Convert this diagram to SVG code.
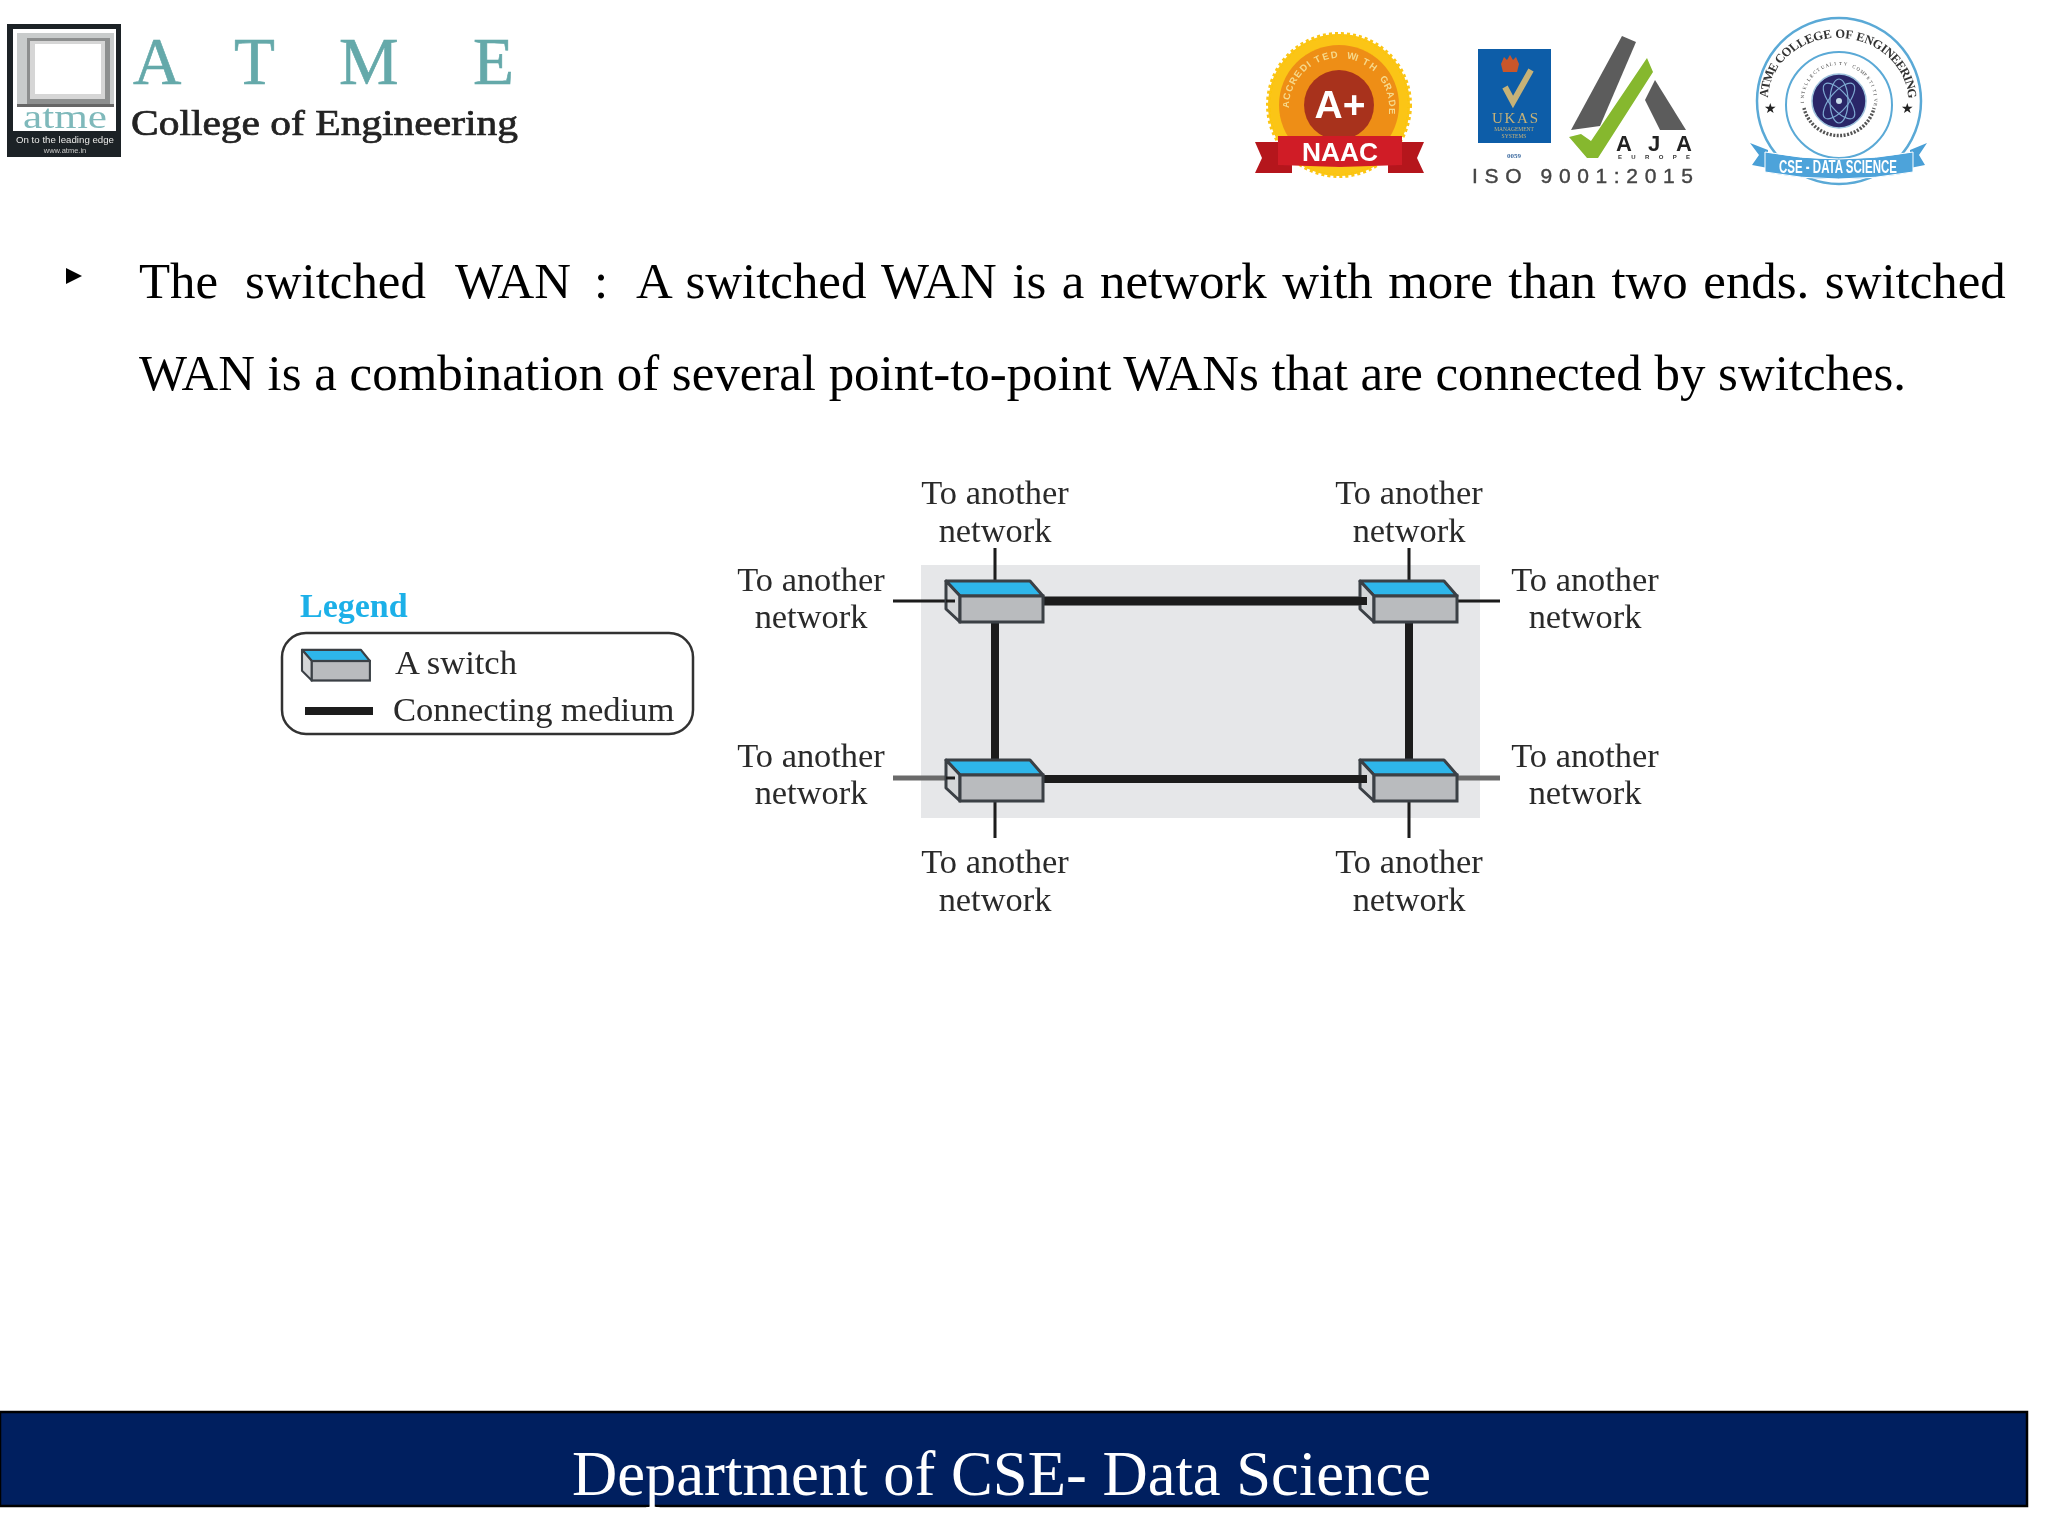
<svg xmlns="http://www.w3.org/2000/svg" width="2048" height="1536" viewBox="0 0 2048 1536">
<style>
text{font-family:"Liberation Serif","Times New Roman",serif}
.body{font-size:50.9px;fill:#000}
.lbl{font-size:34.400px;fill:#2a2a2a;text-anchor:middle}
.sans{font-family:"Liberation Sans",Arial,sans-serif}
.thick{stroke:#1d1d1d;fill:none}
.thin{stroke:#1d1d1d;stroke-width:3;fill:none}
.grayl{stroke:#6b6b6b;stroke-width:5;fill:none}
.leg{font-size:34.600px;fill:#2a2a2a}
.big{font-size:67px;fill:#65a9aa;stroke:#65a9aa;stroke-width:.6}
</style>
<defs>
<filter id="soft" x="-5%" y="-5%" width="110%" height="110%"><feGaussianBlur stdDeviation="0.7"/></filter>
<filter id="soft2" x="-2%" y="-2%" width="104%" height="104%"><feGaussianBlur stdDeviation="0.5"/></filter>
<g id="sw">
<polygon points="946,581 1030,581 1043,596 960,596" fill="#2fb6ea" stroke="#3a3f45" stroke-width="3" stroke-linejoin="round"/>
<polygon points="946,581 960,596 960,622 946,609" fill="#d4d6d8" stroke="#3a3f45" stroke-width="3" stroke-linejoin="round"/>
<rect x="960" y="596" width="83" height="26" fill="#b9bbbe" stroke="#3a3f45" stroke-width="3"/>
</g>
</defs>
<rect width="2048" height="1536" fill="#fff"/>

<g id="logo-atme" filter="url(#soft)">
<rect x="7" y="24" width="114" height="133" fill="#1f2426"/>
<rect x="13" y="29" width="103" height="102" fill="#fff"/>
<rect x="17" y="33" width="97" height="74" fill="#c9cccc"/>
<rect x="27" y="38" width="83" height="68" fill="#8d8f8f"/>
<rect x="30" y="41" width="75" height="58" fill="#d6d6d6"/>
<rect x="35" y="44" width="66" height="50" fill="#fff"/>
<rect x="17" y="104" width="97" height="3" fill="#666"/>
<text x="65" y="128" font-size="33" fill="#7fb9bb" text-anchor="middle" textLength="84" lengthAdjust="spacingAndGlyphs">atme</text>
<text x="65" y="143" class="sans" font-size="8.500" fill="#e8e8e8" text-anchor="middle" textLength="98" lengthAdjust="spacingAndGlyphs">On to the leading edge</text>
<text x="65" y="153" class="sans" font-size="7.500" fill="#c8c8c8" text-anchor="middle">www.atme.in</text>
<text x="133" y="84" class="big">A</text>
<text x="234" y="84" class="big">T</text>
<text x="339" y="84" class="big">M</text>
<text x="473" y="84" class="big">E</text>
<text x="131" y="135" font-size="35" fill="#222" stroke="#222" stroke-width=".7" textLength="387" lengthAdjust="spacingAndGlyphs">College of Engineering</text>
</g>

<g id="logo-naac" filter="url(#soft)">
<circle cx="1339" cy="105" r="71" fill="#fbc512" stroke="#fbc512" stroke-width="4" stroke-dasharray="3 3"/>
<circle cx="1339" cy="105" r="60" fill="#ee8e17"/>
<circle cx="1339" cy="105" r="35" fill="#a8321c"/>
<text x="1340" y="118" class="sans" font-size="39" font-weight="bold" fill="#fff" text-anchor="middle">A+</text>
<text class="sans" font-size="9.500" font-weight="bold" fill="#f6d98b"
 x="1289 1289.6 1291.4 1294.4 1298.5 1303.6 1309.6 1316.3 1323.5 1331.2 1339 1346.8 1354.5 1361.7 1368.4 1374.4 1379.5 1383.6 1386.6 1388.4 1389"
 y="108 100.2 92.5 85.3 78.6 72.6 67.5 63.4 60.4 58.6 58 58.6 60.4 63.4 67.5 72.6 78.6 85.3 92.5 100.2 108"
 rotate="-90 -81 -72 -63 -54 -45 -36 -27 -18 -9 0 9 18 27 36 45 54 63 72 81 90">ACCREDITED WITH GRADE</text>
<polygon points="1255,142 1292,142 1292,173 1255,173 1262,158" fill="#b5171f"/>
<polygon points="1424,142 1388,142 1388,173 1424,173 1417,158" fill="#b5171f"/>
<polygon points="1278,136 1402,136 1402,165 1340,167 1278,165" fill="#d01f26"/>
<text x="1340" y="161" class="sans" font-size="25" font-weight="bold" fill="#fff" text-anchor="middle" textLength="76" lengthAdjust="spacingAndGlyphs">NAAC</text>
</g>

<g id="logo-iso" filter="url(#soft)">
<rect x="1478" y="49" width="73" height="94" fill="#0f5da8"/>
<path d="M1503,72 l-2,-8 3,-7 3,3 3,-5 3,5 3,-3 3,7 -2,8z" fill="#c9572c"/>
<polyline points="1505,87 1513,102 1531,70" fill="none" stroke="#c6b277" stroke-width="6"/>
<text x="1515" y="123" font-size="15" fill="#c6b277" text-anchor="middle" textLength="46">UKAS</text>
<text x="1514" y="131" font-size="5.500" fill="#c6b277" text-anchor="middle">MANAGEMENT</text>
<text x="1514" y="138" font-size="5.500" fill="#c6b277" text-anchor="middle">SYSTEMS</text>
<text x="1514" y="158" font-size="7" font-weight="bold" fill="#3c6aa0" text-anchor="middle">0059</text>
<polygon points="1622,36 1636,42 1600,126 1571,130" fill="#5b5b5b"/>
<polygon points="1655,80 1686,130 1660,130 1645,100" fill="#5b5b5b"/>
<polygon points="1647,58 1653,72 1598,158 1587,158 1569,137 1581,134 1591,141" fill="#86b82e"/>
<text x="1654" y="151" class="sans" font-size="22" font-weight="bold" fill="#222" text-anchor="middle" textLength="76">AJA</text>
<text x="1654" y="159" class="sans" font-size="6" font-weight="bold" fill="#333" text-anchor="middle" textLength="72">EUROPE</text>
<text x="1472" y="183" class="sans" font-size="21" fill="#444" stroke="#444" stroke-width=".4" textLength="221">ISO 9001:2015</text>
</g>

<g id="logo-cse" filter="url(#soft)">
<ellipse cx="1839" cy="101" rx="82" ry="83" fill="#fff" stroke="#5aa9d6" stroke-width="2.500"/>
<circle cx="1839" cy="105" r="53" fill="#fff" stroke="#5aa9d6" stroke-width="2"/>
<circle cx="1839" cy="101" r="27" fill="#2a2768" stroke="#9fc3dd" stroke-width="1.500"/>
<g fill="none" stroke="#7ea9d2" stroke-width="1.200">
<ellipse cx="1839" cy="101" rx="22" ry="9" transform="rotate(50 1839 101)"/>
<ellipse cx="1839" cy="101" rx="22" ry="9" transform="rotate(-50 1839 101)"/>
<ellipse cx="1839" cy="101" rx="22" ry="9" transform="rotate(90 1839 101)"/>
</g>
<circle cx="1839" cy="101" r="3" fill="#c9dcec"/>
<text font-size="12.500" font-weight="bold" fill="#333"
 x="1768.1 1768.9 1770.7 1774.9 1779 1780.7 1786.3 1793.3 1800 1807.2 1814.8 1824.1 1832.3 1835.4 1845.1 1852.6 1855.6 1863.5 1871.6 1879.7 1883.5 1889.9 1895.1 1899.5 1903.2 1904.9 1907"
 y="97.8 90 82.8 73.1 66.7 64.4 58.2 52.3 47.9 44.3 41.500 39.2 38.2 38.1 38.3 39.4 40 42.3 45.6 50.2 52.9 58.5 64.2 70.4 77.6 81.6 89.3"
 rotate="-88 -81 -74 -64 -57 -55 -48 -40 -33 -26 -19 -11 -5 -2 6 12 15 21 29 37 41 48 55 61 69 73 80">ATME COLLEGE OF ENGINEERING</text>
<text font-size="4.800" fill="#333"
 x="1804.1 1804 1804.5 1805.5 1807.1 1809.2 1811.7 1814.7 1818.1 1821.9 1825.9 1830.1 1834.5 1839 1843.4 1847.8 1852.1 1856.1 1859.8 1863.2 1866.2 1868.8 1870.9 1872.5 1873.5 1874 1873.9"
 y="103.1 98.6 94.2 89.8 85.7 81.7 78.1 74.8 71.9 69.5 67.5 66.1 65.3 65 65.3 66.1 67.5 69.5 71.9 74.7 78 81.7 85.6 89.8 94.1 98.5 103"
 rotate="-95 -88 -80 -73 -66 -58 -51 -44 -37 -29 -22 -15 -7 0 7 15 22 29 37 44 51 58 66 73 80 88 95">INTELLECTUALITY COMPETITIVE</text>
<path d="M1804,108 A36,36 0 0 0 1874,108" fill="none" stroke="#555" stroke-width="3.500" stroke-dasharray="2 1.500"/>
<text x="1770" y="113" font-size="14" fill="#222" text-anchor="middle" class="sans">★</text>
<text x="1907" y="113" font-size="14" fill="#222" text-anchor="middle" class="sans">★</text>
<polygon points="1750,143 1768,150 1768,168 1752,165 1759,155" fill="#4a9fd6"/>
<polygon points="1927,143 1910,150 1910,168 1925,165 1919,155" fill="#4a9fd6"/>
<path d="M1765,152 Q1838,166 1913,152 L1913,172 Q1838,186 1765,172Z" fill="#4da3da" stroke="#fff" stroke-width="1"/>
<text x="1838" y="173" class="sans" font-size="18" font-weight="bold" fill="#fff" text-anchor="middle" textLength="118" lengthAdjust="spacingAndGlyphs">CSE - DATA SCIENCE</text>
</g>

<g id="body-text">
<polygon points="66,268 82,276 66,284" fill="#000"/>
<text class="body" y="298"><tspan x="139">The</tspan><tspan x="245">switched</tspan><tspan x="455">WAN</tspan><tspan x="594">:</tspan><tspan x="636" word-spacing="2.800">A switched WAN is a network with more than two ends. switched</tspan></text>
<text class="body" x="139" y="390">WAN is a combination of several point-to-point WANs that are connected by switches.</text>
</g>

<g id="wan-area"><rect x="921" y="565" width="559" height="253" fill="#e6e7e9"/></g>

<g filter="url(#soft2)">
<g id="connectors">
<path class="thick" stroke-width="9" d="M1043,601H1367"/>
<path class="thick" stroke-width="8" d="M1043,779H1367"/>
<path class="thick" stroke-width="8" d="M995,622V759"/>
<path class="thick" stroke-width="8" d="M1409,622V759"/>
<path class="thin" d="M995,548V580M1409,548V580"/>
<path class="thin" d="M995,801V838M1409,801V838"/>
<path class="thin" d="M893,601H946M1457,601H1500"/>
<path class="grayl" d="M893,778H946M1457,778H1500"/>
</g>

<g id="switch-tl"><use href="#sw"/></g>
<g id="switch-tr"><use href="#sw" x="414"/></g>
<g id="switch-bl"><use href="#sw" y="179"/></g>
<g id="switch-br"><use href="#sw" x="414" y="179"/></g>
<path class="thick" stroke-width="8" d="M1352,601H1367M1352,779H1367"/>
<path class="thin" d="M946,601H955M946,778H955"/>

<g id="labels">
<text class="lbl" x="995" y="504">To another</text><text class="lbl" x="995" y="542">network</text>
<text class="lbl" x="1409" y="504">To another</text><text class="lbl" x="1409" y="542">network</text>
<text class="lbl" x="811" y="591">To another</text><text class="lbl" x="811" y="628">network</text>
<text class="lbl" x="1585" y="591">To another</text><text class="lbl" x="1585" y="628">network</text>
<text class="lbl" x="811" y="767">To another</text><text class="lbl" x="811" y="804">network</text>
<text class="lbl" x="1585" y="767">To another</text><text class="lbl" x="1585" y="804">network</text>
<text class="lbl" x="995" y="873">To another</text><text class="lbl" x="995" y="911">network</text>
<text class="lbl" x="1409" y="873">To another</text><text class="lbl" x="1409" y="911">network</text>
</g>

<g id="legend">
<text x="300" y="617" font-size="34" font-weight="bold" fill="#1cb0e8">Legend</text>
<rect x="282" y="633" width="411" height="101" rx="24" fill="#fff" stroke="#333" stroke-width="2.500"/>
<g transform="translate(302,649) scale(.7,.75) translate(-946,-580)"><use href="#sw"/></g>
<text class="leg" x="395" y="674">A switch</text>
<path class="thick" stroke-width="8" d="M305,711H373"/>
<text class="leg" x="393" y="721">Connecting medium</text>
</g>
</g>

<g id="footer">
<rect x="0" y="1412" width="2027" height="94" fill="#001f5f" stroke="#000" stroke-width="2.500"/>
<text x="572" y="1495" font-size="64" fill="#fff" textLength="859" lengthAdjust="spacingAndGlyphs">Department of CSE- Data Science</text>
</g>
</svg>
